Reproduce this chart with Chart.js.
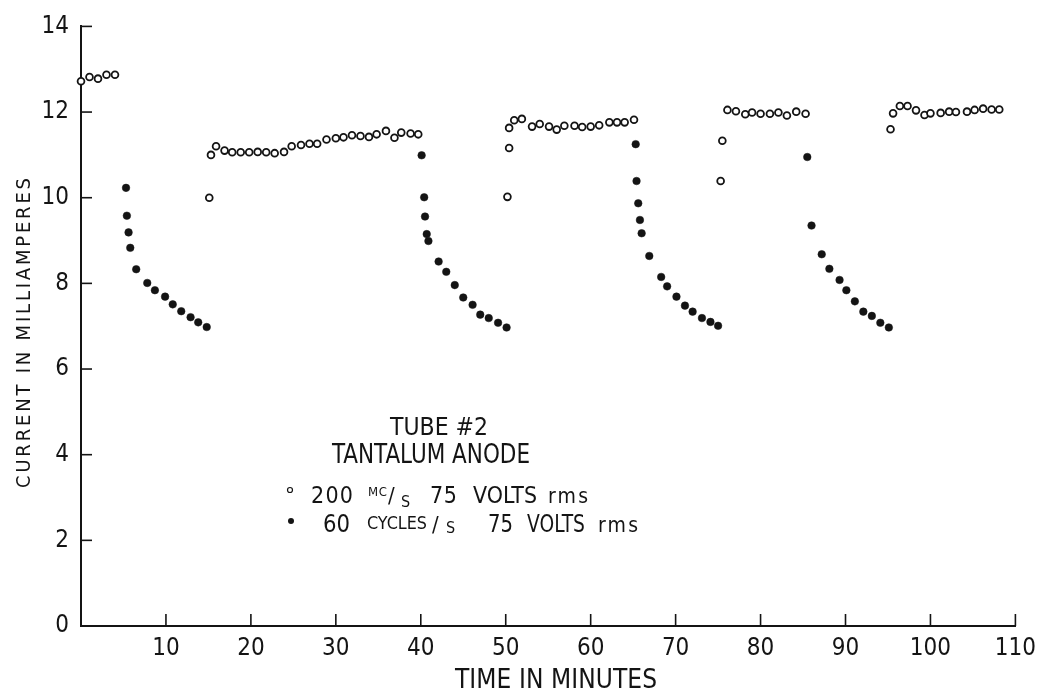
<!DOCTYPE html>
<html>
<head>
<meta charset="utf-8">
<script src="https://cdn.jsdelivr.net/npm/chart.js@4.4.0/dist/chart.umd.min.js"></script>
<style>
html, body { margin: 0; padding: 0; background: #fff; }
#wrap { width: 1044px; height: 692px; }
</style>
</head>
<body>
<div id="wrap"><canvas id="chart" width="1044" height="692"></canvas></div>
<script>
// 200 MC/s, 75 volts rms (open circles)
var hfTime = [0, 1, 2, 3, 4,
    15.1, 15.3, 15.9, 16.9, 17.8, 18.8, 19.8, 20.8, 21.8, 22.8, 23.9, 24.8, 25.9, 26.9, 27.8,
    28.9, 30.0, 30.9, 31.9, 32.9, 33.9, 34.8, 35.9, 36.9, 37.7, 38.8, 39.7,
    50.2, 50.4, 50.4, 51.0, 51.9, 53.1, 54.0, 55.1, 56.0, 56.9, 58.1, 59.0, 60.0, 61.0, 62.2,
    63.1, 64.0, 65.1,
    75.3, 75.5, 76.1, 77.1, 78.2, 79.0, 80.0, 81.1, 82.1, 83.1, 84.2, 85.3,
    95.3, 95.6, 96.4, 97.3, 98.3, 99.3, 100.0, 101.2, 102.2, 103.0, 104.3, 105.2, 106.2, 107.2, 108.1];
var hfCurrent = [12.72, 12.82, 12.78, 12.87, 12.87,
    10.0, 11.0, 11.2, 11.1, 11.06, 11.06, 11.06, 11.07, 11.06, 11.04, 11.07, 11.2, 11.23, 11.26, 11.26,
    11.36, 11.39, 11.41, 11.46, 11.44, 11.42, 11.48, 11.56, 11.40, 11.52, 11.50, 11.48,
    10.02, 11.16, 11.63, 11.81, 11.84, 11.66, 11.72, 11.66, 11.59, 11.68, 11.68, 11.65, 11.66, 11.69, 11.76,
    11.76, 11.76, 11.82,
    10.39, 11.33, 12.05, 12.02, 11.95, 11.99, 11.96, 11.96, 11.99, 11.92, 12.01, 11.96,
    11.6, 11.97, 12.14, 12.14, 12.04, 11.93, 11.97, 11.98, 12.01, 12.0, 12.01, 12.05, 12.08, 12.06, 12.06];

// 60 cycles/s, 75 volts rms (filled dots)
var lfTime = [5.3, 5.4, 5.6, 5.8, 6.5, 7.8, 8.7, 9.9, 10.8, 11.8, 12.9, 13.8, 14.8,
    40.1, 40.4, 40.5, 40.7, 40.9, 42.1, 43.0, 44.0, 45.0, 46.1, 47.0, 48.0, 49.1, 50.1,
    65.3, 65.4, 65.6, 65.8, 66.0, 66.9, 68.3, 69.0, 70.1, 71.1, 72.0, 73.1, 74.1, 75.0,
    85.5, 86.0, 87.2, 88.1, 89.3, 90.1, 91.1, 92.1, 93.1, 94.1, 95.1];
var lfCurrent = [10.23, 9.58, 9.19, 8.83, 8.33, 8.01, 7.84, 7.69, 7.51, 7.35, 7.21, 7.09, 6.98,
    10.99, 10.01, 9.56, 9.15, 8.99, 8.51, 8.27, 7.96, 7.67, 7.50, 7.27, 7.19, 7.08, 6.97,
    11.25, 10.39, 9.87, 9.48, 9.17, 8.64, 8.15, 7.93, 7.69, 7.48, 7.34, 7.19, 7.10, 7.01,
    10.95, 9.35, 8.68, 8.34, 8.08, 7.84, 7.58, 7.34, 7.24, 7.08, 6.97];

var xTitle = "TIME IN MINUTES";
var yTitle = "CURRENT IN MILLIAMPERES";
var noteLines = ["TUBE #2", "TANTALUM ANODE"];

var FONT = "'Liberation Sans Narrow', 'DejaVu Sans Condensed', 'DejaVu Sans', sans-serif";
var INK = "#141414";

function toPoints(xs, ys) {
    return xs.map(function(x, i) { return { x: x, y: ys[i] }; });
}

// fit text between x0 and x1: spread the letters if short, squeeze horizontally if long
function fitText(ctx, text, x0, x1, yb, size) {
    ctx.font = size + "px " + FONT;
    ctx.letterSpacing = "0px";
    ctx.textAlign = "left";
    ctx.textBaseline = "alphabetic";
    var w = ctx.measureText(text).width;
    var target = x1 - x0;
    if (w > target) {
        ctx.save();
        ctx.translate(x0, yb);
        ctx.scale(target / w, 1);
        ctx.fillText(text, 0, 0);
        ctx.restore();
        return;
    }
    if (text.length > 1) {
        ctx.letterSpacing = ((target - w) / (text.length - 1)) + "px";
    }
    ctx.fillText(text, x0, yb);
    ctx.letterSpacing = "0px";
}

var annotations = {
    id: "annotations",
    afterDraw: function(chart) {
        var ctx = chart.ctx;
        var a = chart.chartArea;
        var x = chart.scales.x;
        var y = chart.scales.y;

        ctx.save();
        ctx.strokeStyle = INK;
        ctx.fillStyle = INK;
        ctx.lineWidth = 1.6;

        // tick marks point inward
        x.ticks.forEach(function(t) {
            if (t.value === 0) return;
            var px = x.getPixelForValue(t.value);
            ctx.beginPath();
            ctx.moveTo(px, a.bottom);
            ctx.lineTo(px, a.bottom - 12);
            ctx.stroke();
        });
        y.ticks.forEach(function(t) {
            if (t.value === 0) return;
            var py = y.getPixelForValue(t.value);
            ctx.beginPath();
            ctx.moveTo(a.left, py);
            ctx.lineTo(a.left + 11, py);
            ctx.stroke();
        });

        // axis titles
        fitText(ctx, xTitle, 455, 657, 688, 26);
        ctx.save();
        ctx.translate(30, 488);
        ctx.rotate(-Math.PI / 2);
        fitText(ctx, yTitle, 0, 310, 0, 20);
        ctx.restore();

        // note block
        fitText(ctx, noteLines[0], 390, 488, 435, 25);
        fitText(ctx, noteLines[1], 332, 530, 463, 26);

        // legend row 1
        ctx.beginPath();
        ctx.lineWidth = 1.2;
        ctx.arc(290, 490, 2.5, 0, Math.PI * 2);
        ctx.stroke();
        fitText(ctx, "200", 311, 353, 503, 23);
        fitText(ctx, "MC", 368, 387, 496, 13);
        fitText(ctx, "/", 388, 396, 503, 22);
        fitText(ctx, "S", 401, 412, 507, 16);
        fitText(ctx, "75", 430, 457, 503, 23);
        fitText(ctx, "VOLTS", 473, 537, 503, 23);
        fitText(ctx, "rms", 548, 588, 503, 21);

        // legend row 2
        ctx.beginPath();
        ctx.arc(291, 521, 3, 0, Math.PI * 2);
        ctx.fill();
        fitText(ctx, "60", 323, 350, 532, 24);
        fitText(ctx, "CYCLES", 367, 427, 529, 18);
        fitText(ctx, "/", 432, 441, 532, 22);
        fitText(ctx, "S", 446, 458, 533, 16);
        fitText(ctx, "75", 488, 513, 532, 24);
        fitText(ctx, "VOLTS", 527, 585, 532, 24);
        fitText(ctx, "rms", 598, 638, 532, 21);

        ctx.restore();
    }
};

var ctx = document.getElementById("chart");
var chartInstance = new Chart(ctx, {
    type: "scatter",
    data: {
        datasets: [
            {
                label: "200 MC/s 75 VOLTS rms",
                data: toPoints(hfTime, hfCurrent),
                pointStyle: "circle",
                pointRadius: 3.4,
                pointBorderWidth: 1.8,
                borderColor: INK,
                backgroundColor: "#ffffff",
                clip: false
            },
            {
                label: "60 CYCLES/s 75 VOLTS rms",
                data: toPoints(lfTime, lfCurrent),
                pointStyle: "circle",
                pointRadius: 3.8,
                pointBorderWidth: 0.5,
                borderColor: INK,
                backgroundColor: INK,
                clip: false
            }
        ]
    },
    options: {
        responsive: false,
        animation: false,
        devicePixelRatio: 1,
        layout: { padding: { left: 0, top: 20, right: 21, bottom: 0 } },
        plugins: {
            legend: { display: false },
            tooltip: { enabled: false }
        },
        scales: {
            x: {
                type: "linear",
                min: 0,
                max: 110,
                afterFit: function(scale) { scale.height = 66; },
                grid: { display: false, drawTicks: false },
                border: { display: true, color: INK, width: 2 },
                ticks: {
                    stepSize: 10,
                    padding: 8,
                    color: INK,
                    maxRotation: 0,
                    autoSkip: false,
                    font: { family: FONT, size: 24 },
                    callback: function(v) { return v === 0 ? "" : v; }
                }
            },
            y: {
                min: 0,
                max: 14,
                afterFit: function(scale) { scale.width = 81; },
                grid: { display: false, drawTicks: false },
                border: { display: true, color: INK, width: 2 },
                ticks: {
                    stepSize: 2,
                    padding: 12,
                    color: INK,
                    font: { family: FONT, size: 24 }
                }
            }
        }
    },
    plugins: [annotations]
});
</script>
</body>
</html>
